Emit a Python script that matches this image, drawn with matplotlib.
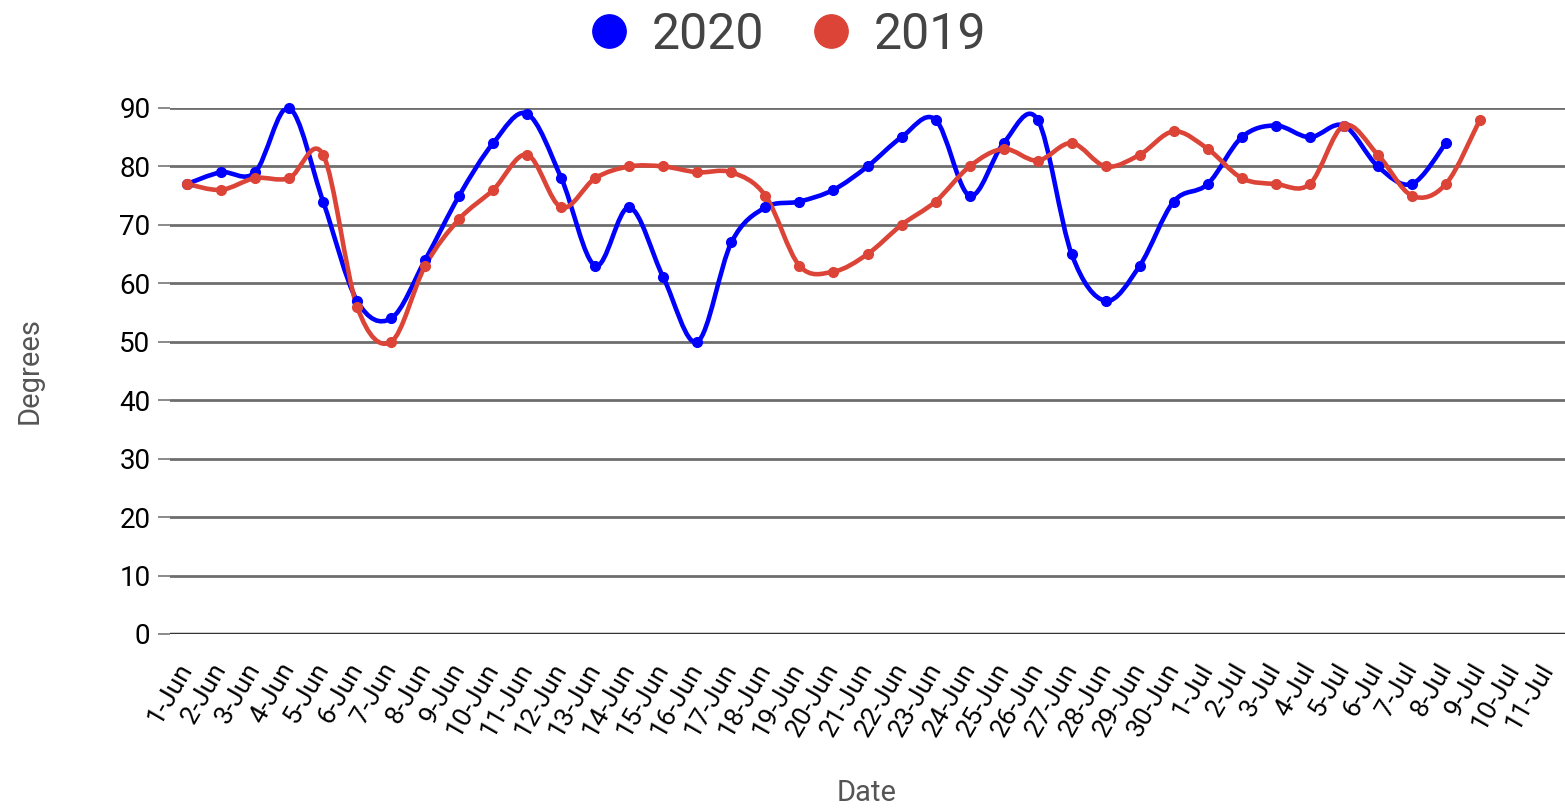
import matplotlib
matplotlib.use("Agg")
import matplotlib.pyplot as plt
import numpy as np
from matplotlib.path import Path
from matplotlib.patches import PathPatch
from matplotlib.lines import Line2D

plt.rcParams['font.family'] = ['Roboto', 'DejaVu Sans']

# categories (x axis)
dates = ['%d-Jun' % d for d in range(1, 31)] + ['%d-Jul' % d for d in range(1, 12)]

# temperatures
temps_2020 = [77, 79, 79, 90, 74, 57, 54, 64, 75, 84, 89, 78, 63, 73, 61, 50, 67, 73, 74,
              76, 80, 85, 88, 75, 84, 88, 65, 57, 63, 74, 77, 85, 87, 85, 87, 80, 77, 84]
temps_2019 = [77, 76, 78, 78, 82, 56, 50, 63, 71, 76, 82, 73, 78, 80, 80, 79, 79, 75, 63,
              62, 65, 70, 74, 80, 83, 81, 84, 80, 82, 86, 83, 78, 77, 77, 87, 82, 75, 77, 88]

BLUE = '#0000ff'
RED = '#db4437'


def smooth_path(xs, ys, t=1/6.):
    # catmull-rom style bezier through every point
    pts = np.column_stack([xs, ys]).astype(float)
    n = len(pts)
    verts = [pts[0]]
    codes = [Path.MOVETO]
    for i in range(n - 1):
        p0 = pts[max(i - 1, 0)]
        p1 = pts[i]
        p2 = pts[i + 1]
        p3 = pts[min(i + 2, n - 1)]
        c1 = p1 + (p2 - p0) * t
        c2 = p2 - (p3 - p1) * t
        verts += [c1, c2, p2]
        codes += [Path.CURVE4] * 3
    return Path(verts, codes)


fig = plt.figure(figsize=(15.65, 8.1), dpi=100)
ax = fig.add_axes([170/1565, 1 - 634/810, 1 - 170/1565, (634 - 108)/810])

for vals, col in [(temps_2020, BLUE), (temps_2019, RED)]:
    x = np.arange(len(vals))
    ax.add_patch(PathPatch(smooth_path(x, vals), facecolor='none', edgecolor=col,
                           lw=3.3, capstyle='round', joinstyle='round', zorder=3))
    ax.plot(x, vals, 'o', color=col, ms=7, zorder=4, clip_on=False)

ax.set_xlim(-0.5, len(dates) - 0.5)
ax.set_ylim(0, 90)
ax.set_yticks(range(0, 91, 10))
ax.set_xticks(range(len(dates)))
ax.set_xticklabels(dates, rotation=60, ha='right', va='center',
                   rotation_mode='anchor', fontsize=19)
ax.tick_params(axis='y', labelsize=20, length=9, color='#777777', width=1.2, pad=5)
ax.tick_params(axis='x', length=0, pad=22)
ax.grid(axis='y', color='#6e6e6e', lw=2)
ax.set_axisbelow(True)
for s in ax.spines.values():
    s.set_visible(False)
ax.axhline(0, color='#333333', lw=2.5, zorder=2)

fig.text(30/1565, 1 - 371/810, 'Degrees', rotation=90, fontsize=21, color='#555555',
         ha='center', va='center')
fig.text(867/1565, 1 - 793/810, 'Date', fontsize=21, color='#555555',
         ha='center', va='center')

handles = [Line2D([], [], ls='none', marker='o', ms=24, color=BLUE),
           Line2D([], [], ls='none', marker='o', ms=24, color=RED)]
leg = fig.legend(handles, ['2020', '2019'], loc='center', bbox_to_anchor=(0.5, 0.957),
                 ncol=2, frameon=False, fontsize=36, handletextpad=0.25,
                 columnspacing=0.75, handlelength=1.2)
for txt in leg.get_texts():
    txt.set_color('#444444')

plt.savefig('out.png', dpi=100)
